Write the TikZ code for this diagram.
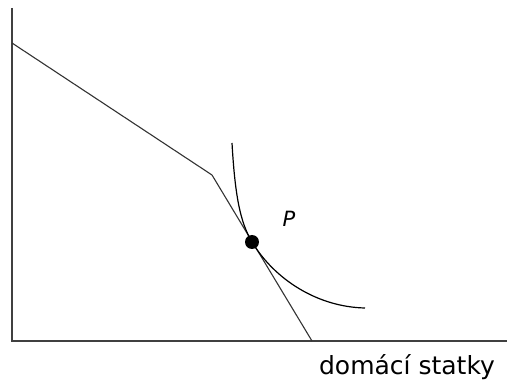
\documentclass[tikz,border=0pt]{standalone}
\usepackage{fontspec}
\setmainfont{DejaVu Sans}
\usetikzlibrary{positioning,calc}
\definecolor{axisgray}{HTML}{404040}
\definecolor{linegray}{HTML}{333333}

\begin{document}
\begin{tikzpicture}[x=1pt,y=-1pt]
        \useasboundingbox (0,0) rectangle (507,382);
        % axes
        \coordinate (top) at (12,8);
        \coordinate (orig) at (12,341);
        \coordinate (right) at (507,341);
        \draw[axisgray,line width=1.4pt] (top) -- (orig) -- (right);
        % budget line with kink
        \coordinate (bstart) at (12,43);
        \coordinate (kink) at (212,175);
        \coordinate (bend) at (312,341);
        \draw[linegray,line width=1.1pt] (bstart) -- (kink) -- (bend);
        % indifference curve
        \coordinate (ctop) at (232,143);
        \coordinate (cend) at (365,308);
        \node[circle,fill=black,inner sep=0pt,minimum size=14pt] (P) at (252,242) {};
        \draw[black,line width=1.2pt] (ctop) .. controls (235,195) and (240,222) .. (P.center)
              .. controls (275,280) and (318,307) .. (cend);
        \node[font=\fontsize{21}{24}\selectfont\itshape] (Plabel) at (289,219) {P};
        \node[font=\fontsize{25}{28}\selectfont] (xlabel) at (407,367) {domácí statky};
      \end{tikzpicture}
\end{document}
